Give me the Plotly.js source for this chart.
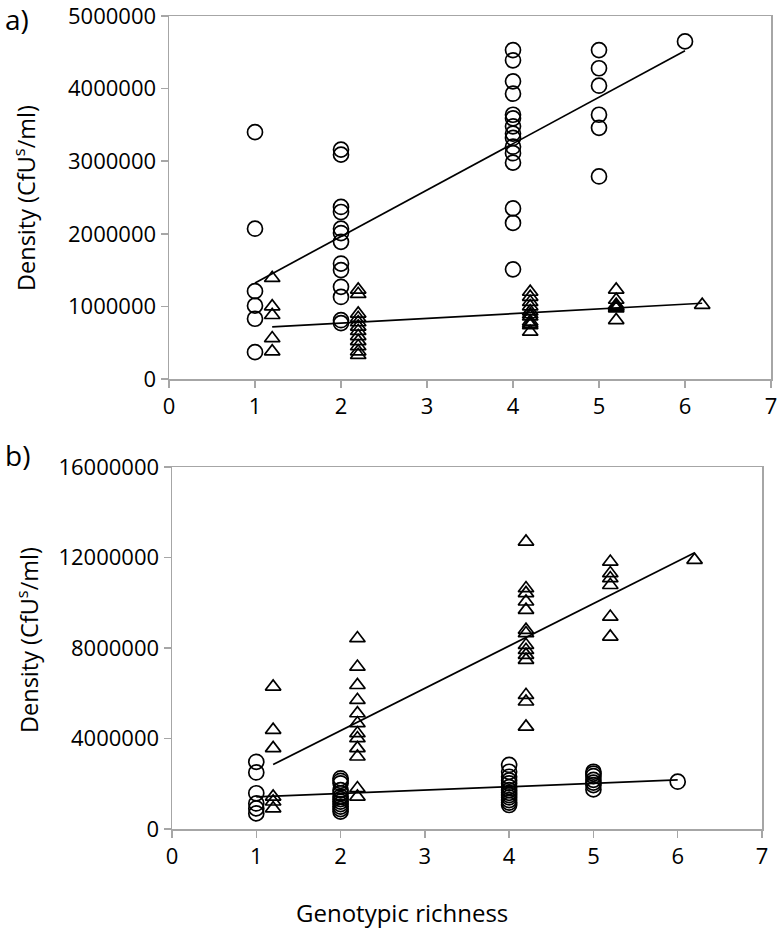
<!DOCTYPE html>
<html>
<head>
<meta charset="utf-8">
<script src="https://cdn.plot.ly/plotly-3.0.1.min.js"></script>
<style>html,body{margin:0;padding:0;background:#fff;}#chart{width:782px;height:941px;}</style>
</head>
<body>
<div id="chart"></div>
<script>
// Panel a) - circles (high series)
const aCircX = [1,1,1,1,1,1,
  2,2,2,2,2,2,2,2,2,2,2,2,2,
  4,4,4,4,4,4,4,4,4,4,4,4,4,4,4,
  5,5,5,5,5,5,
  6];
const aCircY = [3400000,2070000,1210000,1010000,830000,370000,
  3160000,3090000,2370000,2300000,2070000,2010000,1890000,1590000,1500000,1270000,1130000,810000,770000,
  4530000,4390000,4100000,3930000,3640000,3590000,3480000,3380000,3320000,3200000,3110000,2980000,2350000,2150000,1510000,
  4530000,4280000,4040000,3640000,3460000,2790000,
  4650000];
// Panel a) - triangles (low series)
const aTriX = [1.2,1.2,1.2,1.2,1.2,
  2.2,2.2,2.2,2.2,2.2,2.2,2.2,2.2,2.2,2.2,2.2,2.2,
  4.2,4.2,4.2,4.2,4.2,4.2,4.2,4.2,4.2,4.2,4.2,
  5.2,5.2,5.2,5.2,5.2,5.2,5.2,
  6.2];
const aTriY = [1390000,1000000,880000,560000,380000,
  1230000,1170000,900000,840000,780000,720000,660000,590000,520000,450000,380000,330000,
  1200000,1130000,1060000,1000000,930000,890000,860000,790000,760000,740000,650000,
  1230000,1090000,1020000,1000000,990000,970000,810000,
  1020000];

// Panel b) - circles (low series)
const bCircX = [1,1,1,1,1,1,
  2,2,2,2,2,2,2,2,2,2,2,2,
  4,4,4,4,4,4,4,4,4,4,4,4,4,
  5,5,5,5,5,5,5,
  6];
const bCircY = [2970000,2500000,1580000,1130000,910000,690000,
  2240000,2130000,2020000,1720000,1580000,1430000,1320000,1210000,1100000,990000,880000,770000,
  2830000,2530000,2310000,2150000,2020000,1850000,1720000,1600000,1500000,1400000,1280000,1170000,1060000,
  2530000,2450000,2340000,2170000,2050000,1940000,1750000,
  2090000];
// Panel b) - triangles (high series)
const bTriX = [1.2,1.2,1.2,1.2,1.2,1.2,
  2.2,2.2,2.2,2.2,2.2,2.2,2.2,2.2,2.2,2.2,2.2,2.2,
  4.2,4.2,4.2,4.2,4.2,4.2,4.2,4.2,4.2,4.2,4.2,4.2,4.2,4.2,
  5.2,5.2,5.2,5.2,5.2,5.2,
  6.2];
const bTriY = [6290000,4380000,3570000,1430000,1210000,910000,
  8430000,7170000,6360000,5700000,5110000,4670000,4230000,4010000,3570000,3200000,1800000,1430000,
  12700000,10640000,10420000,10050000,9680000,8800000,8650000,8130000,7910000,7690000,7470000,5920000,5630000,4520000,
  11810000,11300000,11080000,10780000,9380000,8500000,
  11890000];

const xTicks = [0,1,2,3,4,5,6,7];
const aYTicks = [0,1000000,2000000,3000000,4000000,5000000];
const bYTicks = [0,4000000,8000000,12000000,16000000];

function trend(xs, ys) {
  const n = xs.length;
  const mx = xs.reduce((s,v)=>s+v,0)/n;
  const my = ys.reduce((s,v)=>s+v,0)/n;
  let sxy = 0, sxx = 0;
  for (let i=0;i<n;i++){ sxy += (xs[i]-mx)*(ys[i]-my); sxx += (xs[i]-mx)*(xs[i]-mx); }
  const b = sxy/sxx, a = my - b*mx;
  const x0 = Math.min(...xs), x1 = Math.max(...xs);
  return {x:[x0,x1], y:[a+b*x0, a+b*x1]};
}

const circ = {symbol:'circle-open', size:15, color:'#000', line:{width:1.7, color:'#000'}};
const tri = {symbol:'triangle-up-open', size:13.5, color:'#000', line:{width:1.7, color:'#000'}};
const lineStyle = {color:'#000', width:1.7};

const tA1 = trend(aCircX, aCircY), tA2 = trend(aTriX, aTriY);
const tB1 = trend(bCircX, bCircY), tB2 = trend(bTriX, bTriY);

const data = [
  {x:aCircX, y:aCircY, type:'scatter', mode:'markers', marker:circ, xaxis:'x', yaxis:'y'},
  {x:aTriX, y:aTriY, type:'scatter', mode:'markers', marker:tri, xaxis:'x', yaxis:'y'},
  {x:tA1.x, y:tA1.y, type:'scatter', mode:'lines', line:lineStyle, xaxis:'x', yaxis:'y'},
  {x:tA2.x, y:tA2.y, type:'scatter', mode:'lines', line:lineStyle, xaxis:'x', yaxis:'y'},
  {x:bCircX, y:bCircY, type:'scatter', mode:'markers', marker:circ, xaxis:'x2', yaxis:'y2'},
  {x:bTriX, y:bTriY, type:'scatter', mode:'markers', marker:tri, xaxis:'x2', yaxis:'y2'},
  {x:tB1.x, y:tB1.y, type:'scatter', mode:'lines', line:lineStyle, xaxis:'x2', yaxis:'y2'},
  {x:tB2.x, y:tB2.y, type:'scatter', mode:'lines', line:lineStyle, xaxis:'x2', yaxis:'y2'}
];

const W = 782, H = 941;
const FONT = 'Open Sans, sans-serif';
const axBase = {
  showgrid:false, zeroline:false, showline:true, mirror:true,
  linecolor:'#a6a6a6', linewidth:1.5,
  ticks:'outside', ticklen:7, tickwidth:1.5, tickcolor:'#a6a6a6',
  tickfont:{family:FONT, size:22, color:'#000'},
  ticklabeloverflow:'allow',
  fixedrange:true
};

const layout = {
  width:W, height:H,
  margin:{l:0, r:0, t:0, b:0},
  paper_bgcolor:'#fff', plot_bgcolor:'#fff',
  showlegend:false,
  font:{family:FONT, color:'#000'},
  xaxis:Object.assign({}, axBase, {domain:[169/W, 771/W], anchor:'y', range:[0,7], tickvals:xTicks}),
  yaxis:Object.assign({}, axBase, {domain:[1-379/H, 1-16/H], anchor:'x', range:[0,5000000], tickvals:aYTicks, tickformat:'d'}),
  xaxis2:Object.assign({}, axBase, {domain:[172/W, 762/W], anchor:'y2', range:[0,7], tickvals:xTicks}),
  yaxis2:Object.assign({}, axBase, {domain:[1-829/H, 1-467/H], anchor:'x2', range:[0,16000000], tickvals:bYTicks, tickformat:'d'}),
  annotations:[
    {text:'a)', xref:'paper', yref:'paper', x:3/W, y:1-19/H, xanchor:'left', yanchor:'middle', showarrow:false, font:{family:FONT, size:28, color:'#000'}},
    {text:'b)', xref:'paper', yref:'paper', x:3/W, y:1-455/H, xanchor:'left', yanchor:'middle', showarrow:false, font:{family:FONT, size:28, color:'#000'}},
    {text:'Density (CfU<sup>s</sup>/ml)', xref:'paper', yref:'paper', x:24/W, y:1-198/H, xanchor:'center', yanchor:'middle', textangle:-90, showarrow:false, font:{family:FONT, size:23.5, color:'#000'}},
    {text:'Density (CfU<sup>s</sup>/ml)', xref:'paper', yref:'paper', x:27/W, y:1-640/H, xanchor:'center', yanchor:'middle', textangle:-90, showarrow:false, font:{family:FONT, size:23.5, color:'#000'}},
    {text:'Genotypic richness', xref:'paper', yref:'paper', x:402/W, y:1-912/H, xanchor:'center', yanchor:'middle', showarrow:false, font:{family:FONT, size:24, color:'#000'}}
  ]
};

Plotly.newPlot('chart', data, layout, {staticPlot:true, displayModeBar:false});
</script>
</body>
</html>
